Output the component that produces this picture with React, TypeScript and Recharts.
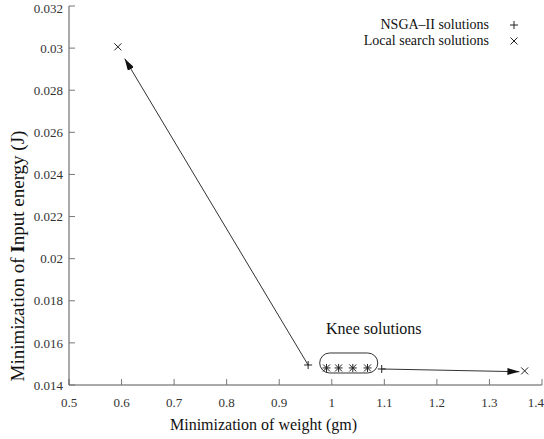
import React from "react";
import {
  ComposedChart,
  Scatter,
  XAxis,
  YAxis,
  ReferenceLine,
  ReferenceArea,
  ReferenceDot,
} from "recharts";

// NSGA-II solutions (+)
const nsgaX = [0.955, 0.99, 1.013, 1.04, 1.068, 1.095];
const nsgaY = [0.01495, 0.01481, 0.01481, 0.01481, 0.01481, 0.01476];

// Local search solutions (x)
const localX = [0.593, 0.99, 1.013, 1.04, 1.068, 1.367];
const localY = [0.03006, 0.01481, 0.01481, 0.01481, 0.01481, 0.01467];

const xTicks = [0.5, 0.6, 0.7, 0.8, 0.9, 1.0, 1.1, 1.2, 1.3, 1.4];
const xTickLabels = ["0.5", "0.6", "0.7", "0.8", "0.9", "1", "1.1", "1.2", "1.3", "1.4"];
const yTicks = [0.014, 0.016, 0.018, 0.02, 0.022, 0.024, 0.026, 0.028, 0.03, 0.032];
const yTickLabels = ["0.014", "0.016", "0.018", "0.02", "0.022", "0.024", "0.026", "0.028", "0.03", "0.032"];

const nsgaData = nsgaX.map((x, i) => ({ x, y: nsgaY[i] }));
const localData = localX.map((x, i) => ({ x, y: localY[i] }));

const FONT = "Liberation Serif, Times New Roman, Tinos, DejaVu Serif, serif";
const INK = "#222";

const Plus = (props: any) => {
  const { cx, cy } = props;
  return (
    <path
      d={`M${cx - 4},${cy}h8M${cx},${cy - 4}v8`}
      stroke={INK}
      strokeWidth={1}
      fill="none"
    />
  );
};

const Cross = (props: any) => {
  const { cx, cy } = props;
  return (
    <path
      d={`M${cx - 3.5},${cy - 3.5}l7,7M${cx + 3.5},${cy - 3.5}l-7,7`}
      stroke={INK}
      strokeWidth={1}
      fill="none"
    />
  );
};

const LegendBox = () => (
  <div
    style={{
      position: "absolute",
      top: 17,
      right: 5,
      fontFamily: FONT,
      fontSize: 14,
      color: "#111",
      lineHeight: "16px",
    }}
  >
    <div style={{ display: "flex", justifyContent: "flex-end" }}>
      <span>NSGA–II solutions</span>
      <svg width={50} height={16}>
        <path d="M25,4v8M21,8h8" stroke={INK} />
      </svg>
    </div>
    <div style={{ display: "flex", justifyContent: "flex-end" }}>
      <span>Local search solutions</span>
      <svg width={50} height={16}>
        <path d="M21.5,4.5l7,7M28.5,4.5l-7,7" stroke={INK} />
      </svg>
    </div>
  </div>
);

// y-axis title, drawn in its own svg
const YTitle = () => (
  <svg
    width={40}
    height={439}
    style={{ position: "absolute", left: 0, top: 0, pointerEvents: "none" }}
  >
    <text
      x={17}
      y={256}
      transform="rotate(-90, 17, 256)"
      textAnchor="middle"
      dominantBaseline="central"
      fontFamily={FONT}
      fontSize={19}
      fill="#111"
    >
      Minimization of <tspan fontWeight="bold">I</tspan>nput energy (J)
    </text>
  </svg>
);

export default function App() {
  return (
    <div style={{ position: "absolute", left: 0, top: 0, width: 544, height: 439, background: "#fff" }}>
      <ComposedChart
        width={544}
        height={439}
        margin={{ top: 6, right: 2, bottom: 0, left: 0 }}
      >
        <defs>
          <marker
            id="arrowHead"
            markerWidth={12}
            markerHeight={7}
            refX={12}
            refY={3.5}
            orient="auto"
            markerUnits="userSpaceOnUse"
          >
            <path d="M0,0L12,3.5L0,7z" fill="#111" />
          </marker>
        </defs>
        <XAxis
          type="number"
          dataKey="x"
          domain={[0.5, 1.4]}
          ticks={xTicks}
          tickFormatter={(v: number) => xTickLabels[xTicks.indexOf(v)] ?? String(v)}
          height={54}
          tickSize={-6}
          tickMargin={19}
          axisLine={{ stroke: "#555" }}
          tickLine={{ stroke: "#777" }}
          tick={{ fontFamily: FONT, fontSize: 13, fill: "#333" }}
          label={{
            value: "Minimization of weight (gm)",
            position: "insideBottom",
            offset: 9,
            dx: -42,
            style: { fontFamily: FONT, fontSize: 16, fill: "#111" },
          }}
        />
        <XAxis
          xAxisId="top"
          orientation="top"
          type="number"
          domain={[0.5, 1.4]}
          ticks={xTicks}
          height={0}
          tickSize={-6}
          tick={false}
          axisLine={{ stroke: "#222" }}
          tickLine={{ stroke: "#777" }}
        />
        <YAxis
          type="number"
          dataKey="y"
          domain={[0.014, 0.032]}
          ticks={yTicks}
          tickFormatter={(v: number) => yTickLabels[yTicks.indexOf(v)] ?? String(v)}
          width={69}
          tickSize={-6}
          tickMargin={12}
          axisLine={{ stroke: "#555" }}
          tickLine={{ stroke: "#777" }}
          tick={{ fontFamily: FONT, fontSize: 13, fill: "#333" }}
        />
        <YAxis
          yAxisId="right"
          orientation="right"
          type="number"
          domain={[0.014, 0.032]}
          ticks={yTicks}
          width={0}
          tickSize={-6}
          tick={false}
          axisLine={{ stroke: "#555" }}
          tickLine={{ stroke: "#777" }}
        />
        <ReferenceArea
          x1={0.977}
          x2={1.0875}
          y1={0.01457}
          y2={0.01552}
          ifOverflow="visible"
          shape={(p: any) => (
            <rect
              x={p.x}
              y={p.y}
              width={p.width}
              height={p.height}
              rx={10}
              ry={10}
              fill="none"
              stroke="#333"
              strokeWidth={1}
            />
          )}
        />
        <ReferenceDot
          x={1.08}
          y={0.01671}
          r={0}
          fill="none"
          stroke="none"
          label={{
            value: "Knee solutions",
            position: "center",
            style: { fontFamily: FONT, fontSize: 16, fill: "#111" },
          }}
        />
        <ReferenceLine
          segment={[
            { x: nsgaX[0], y: nsgaY[0] },
            { x: 0.606, y: 0.0295 },
          ]}
          stroke="#333"
          strokeWidth={1}
          markerEnd="url(#arrowHead)"
          ifOverflow="visible"
        />
        <ReferenceLine
          segment={[
            { x: nsgaX[5], y: nsgaY[5] },
            { x: 1.357, y: 0.01463 },
          ]}
          stroke="#333"
          strokeWidth={1}
          markerEnd="url(#arrowHead)"
          ifOverflow="visible"
        />
        <Scatter
          name="NSGA–II solutions"
          data={nsgaData}
          shape={<Plus />}
          isAnimationActive={false}
        />
        <Scatter
          name="Local search solutions"
          data={localData}
          shape={<Cross />}
          isAnimationActive={false}
        />
      </ComposedChart>
      <YTitle />
      <LegendBox />
    </div>
  );
}
